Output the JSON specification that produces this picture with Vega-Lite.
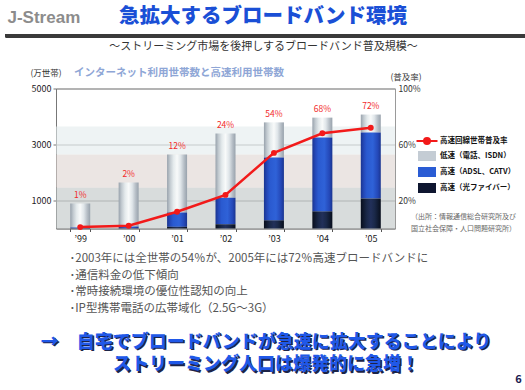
{
  "$schema": "https://vega.github.io/schema/vega-lite/v6.json",
  "background": "#ffffff",
  "padding": {"left": 3, "top": 6, "right": 0, "bottom": 0},
  "spacing": 15.5,
  "config": {"font": "Noto Sans CJK JP", "view": {"stroke": null}},
  "datasets": {
    "bars": [
      {"year": "’99", "kind": "高速（光ファイバー）", "n": 5},
      {"year": "’99", "kind": "高速（ADSL、CATV）", "n": 35},
      {"year": "’99", "kind": "低速（電話、ISDN）", "n": 850},
      {"year": "’00", "kind": "高速（光ファイバー）", "n": 10},
      {"year": "’00", "kind": "高速（ADSL、CATV）", "n": 60},
      {"year": "’00", "kind": "低速（電話、ISDN）", "n": 1570},
      {"year": "’01", "kind": "高速（光ファイバー）", "n": 60},
      {"year": "’01", "kind": "高速（ADSL、CATV）", "n": 510},
      {"year": "’01", "kind": "低速（電話、ISDN）", "n": 2070},
      {"year": "’02", "kind": "高速（光ファイバー）", "n": 150},
      {"year": "’02", "kind": "高速（ADSL、CATV）", "n": 950},
      {"year": "’02", "kind": "低速（電話、ISDN）", "n": 2290},
      {"year": "’03", "kind": "高速（光ファイバー）", "n": 290},
      {"year": "’03", "kind": "高速（ADSL、CATV）", "n": 2250},
      {"year": "’03", "kind": "低速（電話、ISDN）", "n": 1250},
      {"year": "’04", "kind": "高速（光ファイバー）", "n": 610},
      {"year": "’04", "kind": "高速（ADSL、CATV）", "n": 2640},
      {"year": "’04", "kind": "低速（電話、ISDN）", "n": 710},
      {"year": "’05", "kind": "高速（光ファイバー）", "n": 1070},
      {"year": "’05", "kind": "高速（ADSL、CATV）", "n": 2360},
      {"year": "’05", "kind": "低速（電話、ISDN）", "n": 640}
    ],
    "rate": [
      {"year": "’99", "rate": 0.01},
      {"year": "’00", "rate": 0.02},
      {"year": "’01", "rate": 0.12},
      {"year": "’02", "rate": 0.24},
      {"year": "’03", "rate": 0.54},
      {"year": "’04", "rate": 0.68},
      {"year": "’05", "rate": 0.72}
    ],
    "bands": [
      {"lo": 0, "hi": 1460, "band": "g"},
      {"lo": 1460, "hi": 2640, "band": "p"},
      {"lo": 2640, "hi": 3640, "band": "b"}
    ],
    "msg": [
      {"line": 1, "text": "→　自宅でブロードバンドが急速に拡大することにより"},
      {"line": 2, "text": "ストリーミング人口は爆発的に急増！"}
    ],
    "hdr": [{"k": "rule"}]
  },
  "vconcat": [
    {
      "width": 471,
      "height": 29.5,
      "title": {"text": "急拡大するブロードバンド環境", "anchor": "middle", "frame": "group", "dx": -28.5, "fontSize": 20.5, "fontWeight": 900, "color": "#1a4fd6", "offset": -21},
      "data": {"name": "hdr"},
      "mark": {"type": "rule", "color": "#3a3a3a", "strokeWidth": 3, "opacity": 1, "clip": false},
      "encoding": {
        "x": {"datum": 0, "type": "quantitative", "scale": {"domain": [0, 1], "range": [-51, 471]},
          "axis": {"title": "～ストリーミング市場を後押しするブロードバンド普及規模～", "labels": false, "ticks": false, "domain": true, "domainColor": "#3a3a3a", "domainWidth": 3, "grid": false, "titleX": 207, "titleAlign": "center", "titleFontSize": 11, "titleFontWeight": "normal", "titleColor": "#333333", "titlePadding": 5}},
        "x2": {"datum": 1},
        "y": {"datum": 0, "type": "quantitative", "scale": {"domain": [0, 1]},
          "axis": {"title": "J-Stream", "labels": false, "ticks": false, "domain": false, "grid": true, "values": [0], "gridColor": "#3a3a3a", "gridWidth": 3, "gridOpacity": 1, "titleAngle": 0, "titleAlign": "left", "titleBaseline": "middle", "titleX": -49, "titleY": 11, "titleFont": "Liberation Sans", "titleFontSize": 17, "titleFontWeight": "bold", "titleColor": "#8c8c8c"}},
        "detail": {"field": "k", "type": "nominal"}
      }
    },
    {
      "width": 339,
      "height": 140,
      "view": {"stroke": "#9a9a9a", "fill": "#ffffff"},
      "title": {"text": "インターネット利用世帯数と高速利用世帯数", "anchor": "start", "frame": "group", "dx": 18, "fontSize": 10.5, "fontWeight": "bold", "color": "#8ea6d6", "offset": -10},
      "layer": [
        {
          "data": {"name": "bars"},
          "transform": [{"stack": "n", "groupby": ["year"], "sort": [{"field": "kind", "order": "descending"}], "as": ["n0", "n1"]}],
          "layer": [
            {
              "data": {"name": "bands"},
              "mark": {"type": "rect", "opacity": 0.6},
              "encoding": {
                "y": {"field": "lo", "type": "quantitative", "scale": {"domain": [0, 5000]},
                  "axis": {"orient": "left", "values": [1000, 2000, 3000, 4000, 5000], "format": "d", "grid": true, "gridColor": "#999999", "domainColor": "#777777", "tickColor": "#777777", "tickSize": 3, "labelFontSize": 9, "labelColor": "#222222", "labelPadding": 2,
                    "title": "(万世帯)", "titleAngle": 0, "titleAlign": "left", "titleBaseline": "middle", "titleX": -26, "titleY": -16, "titleFontSize": 8.5, "titleFontWeight": "normal", "titleColor": "#333333"}},
                "y2": {"field": "hi"},
                "fill": {"field": "band", "type": "nominal", "scale": {"domain": ["g", "p", "b"], "range": ["#bec5c5", "#ded4d0", "#e3ebed"]}, "legend": null}
              }
            },
            {
              "transform": [{"filter": {"field": "kind", "equal": "低速（電話、ISDN）"}}],
              "mark": {"type": "bar", "fill": {"gradient": "linear", "x1": 0, "y1": 0, "x2": 1, "y2": 0, "stops": [
                {"offset": 0, "color": "#98a2ac"}, {"offset": 0.15, "color": "#c2cad0"}, {"offset": 0.32, "color": "#e4eaec"}, {"offset": 0.5, "color": "#f8fafa"}, {"offset": 0.68, "color": "#dfe5e9"}, {"offset": 0.85, "color": "#b6bec6"}, {"offset": 1, "color": "#98a2ac"}]}},
              "encoding": {
                "x": {"field": "year", "type": "nominal", "sort": null, "scale": {"paddingInner": 0.587, "paddingOuter": 0.2935},
                  "axis": {"labelAngle": 0, "labelFontSize": 9, "labelColor": "#222222", "labelPadding": 3, "tickBand": "extent", "tickSize": 3, "tickColor": "#555555", "domainColor": "#777777",
                    "title": ["･2003年には全世帯の54％が、2005年には72％高速ブロードバンドに", "･通信料金の低下傾向", "･常時接続環境の優位性認知の向上", "･IP型携帯電話の広帯域化（2.5G～3G）"],
                    "titleAnchor": "start", "titleAlign": "left", "titleX": 13, "titleFontSize": 11.5, "titleFontWeight": "normal", "titleColor": "#555555", "titleLineHeight": 16.5, "titlePadding": 9}},
                "y": {"field": "n1", "type": "quantitative"},
                "y2": {"field": "n0"}
              }
            },
            {
              "transform": [{"filter": {"field": "kind", "equal": "高速（ADSL、CATV）"}}],
              "mark": {"type": "bar", "fill": {"gradient": "linear", "x1": 0, "y1": 0, "x2": 1, "y2": 0, "stops": [
                {"offset": 0, "color": "#1a3590"}, {"offset": 0.15, "color": "#2448b8"}, {"offset": 0.3, "color": "#2a5ad0"}, {"offset": 0.6, "color": "#2f62d8"}, {"offset": 0.85, "color": "#2448b8"}, {"offset": 1, "color": "#1a3590"}]}},
              "encoding": {
                "x": {"field": "year", "type": "nominal", "sort": null},
                "y": {"field": "n1", "type": "quantitative"},
                "y2": {"field": "n0"}
              }
            },
            {
              "transform": [{"filter": {"field": "kind", "equal": "高速（光ファイバー）"}}],
              "mark": {"type": "bar", "fill": {"gradient": "linear", "x1": 0, "y1": 0, "x2": 1, "y2": 0, "stops": [
                {"offset": 0, "color": "#080e1c"}, {"offset": 0.3, "color": "#1a2848"}, {"offset": 0.5, "color": "#22305a"}, {"offset": 0.7, "color": "#1a2848"}, {"offset": 1, "color": "#080e1c"}]}},
              "encoding": {
                "x": {"field": "year", "type": "nominal", "sort": null},
                "y": {"field": "n1", "type": "quantitative"},
                "y2": {"field": "n0"}
              }
            },
            {
              "transform": [
                {"aggregate": [{"op": "sum", "field": "n", "as": "total"}], "groupby": ["year"]},
                {"lookup": "year", "from": {"data": {"name": "rate"}, "key": "year", "fields": ["rate"]}}
              ],
              "mark": {"type": "text", "color": "#f22a2a", "fontSize": 8.5, "dy": -8.5},
              "encoding": {
                "x": {"field": "year", "type": "nominal", "sort": null},
                "y": {"field": "total", "type": "quantitative"},
                "text": {"field": "rate", "type": "quantitative", "format": ".0%"}
              }
            }
          ]
        },
        {
          "data": {"name": "rate"},
          "layer": [
            {
              "mark": {"type": "line", "strokeWidth": 2.5},
              "encoding": {
                "x": {"field": "year", "type": "nominal", "sort": null},
                "y": {"field": "rate", "type": "quantitative", "scale": {"domain": [0, 1]},
                  "axis": {"orient": "right", "values": [0.2, 0.4, 0.6, 0.8, 1.0], "format": ".0%", "grid": false, "domain": false, "ticks": false, "labelFontSize": 8.5, "labelColor": "#333333", "labelPadding": 3,
                    "title": "(普及率)", "titleAngle": 0, "titleAlign": "left", "titleBaseline": "middle", "titleX": -5, "titleY": -12, "titleFontSize": 8.5, "titleFontWeight": "normal", "titleColor": "#333333"}},
                "color": {"datum": "高速回線世帯普及率",
                  "scale": {"domain": ["高速回線世帯普及率", "低速（電話、ISDN）", "高速（ADSL、CATV）", "高速（光ファイバー）"], "range": ["#f21a1a", "#c4ccd4", "#2a5cd4", "#0e1630"]},
                  "legend": {"title": null, "orient": "none", "legendX": 367, "legendY": 131, "labelFontSize": 7.5, "labelFontWeight": "bold", "labelColor": "#111111", "labelOffset": 9, "symbolSize": 36, "symbolStrokeWidth": 0, "rowPadding": 0, "padding": 0,
                    "encode": {"symbols": {"update": {
                      "shape": {"signal": "datum.value === '高速回線世帯普及率' ? 'M-3.5,0L3.5,0M1,0A1,1,0,1,1,-1,0A1,1,0,1,1,1,0Z' : 'M-2.667,-1.333L2.667,-1.333L2.667,1.333L-2.667,1.333Z'"},
                      "fill": {"signal": "datum.value === '高速回線世帯普及率' ? '#f21a1a' : datum.value === '低速（電話、ISDN）' ? '#c4ccd4' : datum.value === '高速（ADSL、CATV）' ? '#2a5cd4' : '#0e1630'"},
                      "stroke": {"signal": "datum.value === '高速回線世帯普及率' ? '#f21a1a' : 'transparent'"},
                      "strokeWidth": {"value": 2},
                      "opacity": {"value": 1}
                    }}}}
                }
              }
            },
            {
              "mark": {"type": "point", "filled": true, "color": "#f21a1a", "size": 35, "opacity": 1},
              "encoding": {
                "x": {"field": "year", "type": "nominal", "sort": null},
                "y": {"field": "rate", "type": "quantitative"},
                "shape": {"datum": "出所", "legend": {"title": ["（出所：情報通信総合研究所及び", "国立社会保障・人口問題研究所）"], "orient": "none", "legendX": 355, "legendY": 207, "labelExpr": "''", "symbolOpacity": 0, "titleFontSize": 7, "titleFontWeight": "normal", "titleColor": "#666666", "titleLineHeight": 12, "titleLimit": 300, "padding": 0}}
              }
            }
          ]
        }
      ],
      "resolve": {"scale": {"y": "independent"}}
    },
    {
      "width": 420,
      "height": 48,
      "data": {"name": "msg"},
      "layer": [
        {
          "mark": {"type": "text", "fontSize": 18, "fontWeight": 900, "color": "#1c2448", "dx": 1.5, "dy": 1.5},
          "encoding": {
            "y": {"field": "line", "type": "ordinal", "scale": {"type": "point", "padding": 0.59},
              "axis": {"orient": "right", "labels": false, "ticks": false, "domain": false, "grid": false, "title": "6", "titleAngle": 0, "titleAlign": "center", "titleBaseline": "middle", "titleX": 42, "titleY": 49, "titleFontSize": 11, "titleFontWeight": "bold", "titleColor": "#1a2050"}},
            "text": {"field": "text", "type": "nominal"}
          }
        },
        {
          "mark": {"type": "text", "fontSize": 18, "fontWeight": 900, "color": "#2058e8"},
          "encoding": {
            "y": {"field": "line", "type": "ordinal"},
            "text": {"field": "text", "type": "nominal"}
          }
        }
      ]
    }
  ]
}
